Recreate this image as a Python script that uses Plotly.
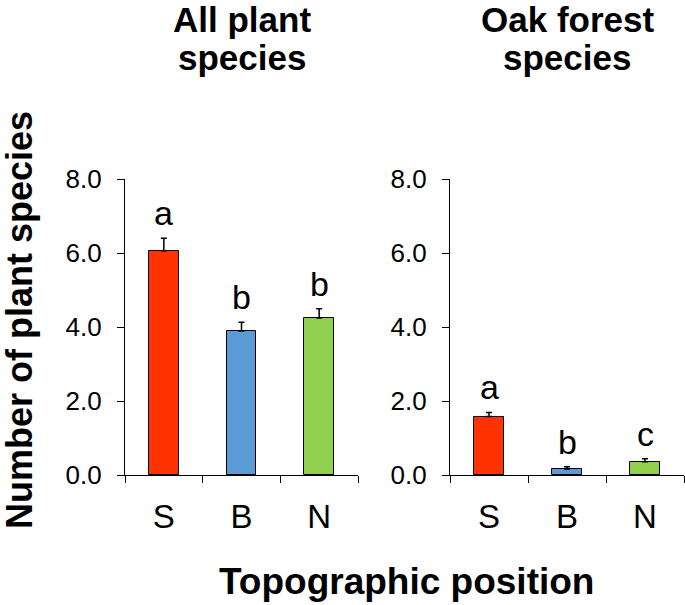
import plotly.graph_objects as go

categories = ["S", "B", "N"]
all_mean = [6.06, 3.89, 4.24]
all_se = [0.34, 0.24, 0.25]
all_letters = ["a", "b", "b"]
oak_mean = [1.58, 0.16, 0.36]
oak_se = [0.11, 0.06, 0.08]
oak_letters = ["a", "b", "c"]
bar_colors = ["#FF3300", "#5B9BD5", "#92D050"]
y_ticks = [0, 2, 4, 6, 8]
y_ticktext = ["0.0", "2.0", "4.0", "6.0", "8.0"]
panel_titles = [["All plant", "species"], ["Oak forest", "species"]]

W, H = 685, 605
FONT = "Liberation Sans, Arial, sans-serif"

def px_x(p):
    return p / W

def px_y(p):
    return 1 - p / H

fig = go.Figure()

for i, (mean, se) in enumerate([(all_mean, all_se), (oak_mean, oak_se)]):
    xa = "x" if i == 0 else "x2"
    ya = "y" if i == 0 else "y2"
    fig.add_trace(go.Bar(
        x=categories, y=mean, xaxis=xa, yaxis=ya,
        width=0.385,
        marker=dict(color=bar_colors, line=dict(color="black", width=1)),
        error_y=dict(type="data", symmetric=False, array=se,
                     arrayminus=[0] * len(se), color="black",
                     thickness=1.5, width=3),
        showlegend=False, hoverinfo="skip",
    ))

axis_common_y = dict(
    range=[0, 8], tickvals=y_ticks, ticktext=y_ticktext, automargin=False,
    showgrid=False, zeroline=False, showline=True, linecolor="black",
    linewidth=1.3, ticks="outside", ticklen=7, tickwidth=1.3,
    tickcolor="black", ticklabelstandoff=10,
    tickfont=dict(family=FONT, size=26, color="black"),
)
axis_common_x = dict(
    range=[-0.5, 2.5], type="category", showgrid=False, zeroline=False,
    showline=True, linecolor="black", linewidth=1.3, ticks="outside",
    ticklen=7, tickwidth=1.3, tickcolor="black", tickson="boundaries",
    ticklabelstandoff=12, automargin=False,
    tickfont=dict(family=FONT, size=33, color="black"),
)

ydom = [px_y(475), px_y(179)]
fig.update_layout(
    width=W, height=H,
    margin=dict(l=0, r=0, t=0, b=0),
    paper_bgcolor="white", plot_bgcolor="white",
    bargap=0,
    xaxis=dict(domain=[px_x(125), px_x(358)], anchor="y", **axis_common_x),
    yaxis=dict(domain=ydom, anchor="x", **axis_common_y),
    xaxis2=dict(domain=[px_x(450), px_x(684)], anchor="y2", **axis_common_x),
    yaxis2=dict(domain=ydom, anchor="x2", **axis_common_y),
)

annotations = []
for i, (mean, se, letters) in enumerate([(all_mean, all_se, all_letters),
                                          (oak_mean, oak_se, oak_letters)]):
    xr = "x" if i == 0 else "x2"
    yr = "y" if i == 0 else "y2"
    for c, m, s, l in zip(categories, mean, se, letters):
        annotations.append(dict(
            x=c, y=m + s, xref=xr, yref=yr, text=l, showarrow=False,
            yanchor="bottom", yshift=4,
            font=dict(family=FONT, size=34, color="black"),
        ))

for cx, lines in zip([242, 567], panel_titles):
    for cy, line in zip([19, 58], lines):
        annotations.append(dict(
            x=px_x(cx), y=px_y(cy), xref="paper", yref="paper",
            text="<b>" + line + "</b>",
            showarrow=False, xanchor="center", yanchor="middle",
            font=dict(family=FONT, size=35, color="black"),
        ))

annotations.append(dict(
    x=px_x(19), y=px_y(320), xref="paper", yref="paper",
    text="<b>Number of plant species</b>", textangle=-90, showarrow=False,
    xanchor="center", yanchor="middle",
    font=dict(family=FONT, size=36, color="black"),
))
annotations.append(dict(
    x=px_x(406), y=px_y(581), xref="paper", yref="paper",
    text="<b>Topographic position</b>", showarrow=False,
    xanchor="center", yanchor="middle",
    font=dict(family=FONT, size=37, color="black"),
))
fig.update_layout(annotations=annotations)

fig.write_html("out.html",
               config={"displayModeBar": False},
               post_script="document.body.style.margin='0px';")
